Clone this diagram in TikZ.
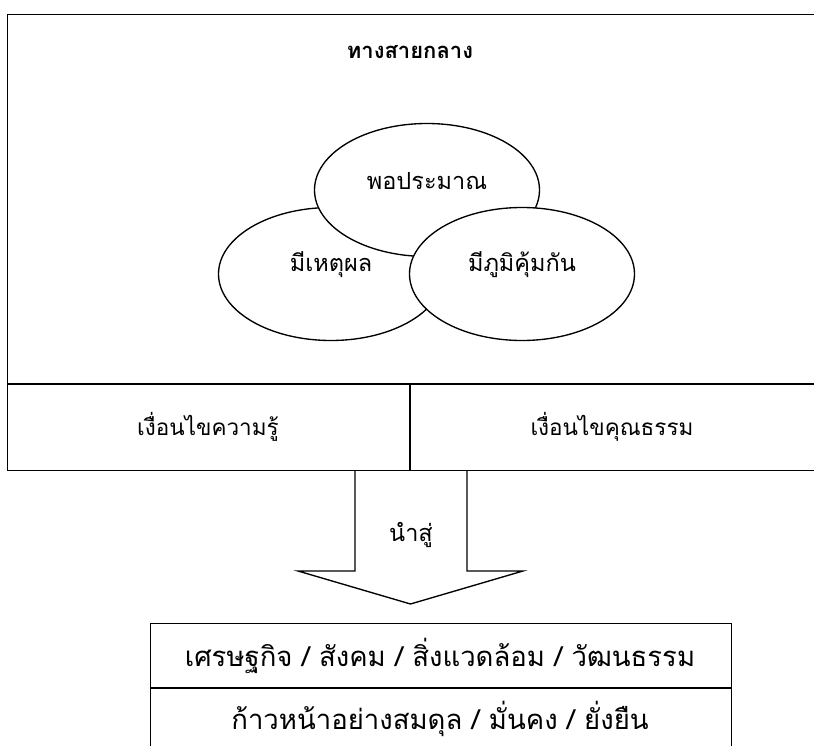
\documentclass[tikz,border=0pt]{standalone}
\usepackage{fontspec}
\setmainfont{Loma}[Script=Thai]
\usetikzlibrary{shapes.geometric}
\begin{document}
\begin{tikzpicture}[x=1pt,y=-1pt,line width=1.35pt,
  ell/.style={ellipse,draw,fill=white,minimum width=225pt,minimum height=133pt,inner sep=0pt},
  txt/.style={font=\fontsize{23.5}{28}\selectfont,inner sep=0pt},
  ctxt/.style={font=\fontsize{22.5}{27}\selectfont,inner sep=0pt},
  btxt/.style={font=\fontsize{27.5}{32}\selectfont,inner sep=0pt},
  ttl/.style={font=\bfseries\fontsize{22}{26}\selectfont,inner sep=0pt},
  cell/.style={draw,rectangle,inner sep=0pt}]
\useasboundingbox (0,0) rectangle (814,746);
\fill[white] (0,0) rectangle (814,746);
% outer frame
\node[cell,minimum width=813pt,minimum height=456pt,anchor=north west] (frame) at (7,14) {};
\coordinate (divL) at (7,384);
\coordinate (divR) at (822,384);
\draw (divL) -- (divR);
\coordinate (vtop) at (410,384);
\coordinate (vbot) at (410,470);
\draw (vtop) -- (vbot);
\node[ttl] (title) at (410,52) {ทางสายกลาง};
% ellipses
\node[ell] (L) at (331,274) {};
\node[ell] (T) at (427,190) {};
\node[ell] (R) at (522,274) {};
\node[txt] (tT) at ([yshift=9pt]T.center) {พอประมาณ};
\node[txt] (tL) at ([yshift=9pt]L.center) {มีเหตุผล};
\node[txt] (tR) at ([yshift=9pt]R.center) {มีภูมิคุ้มกัน};
% conditions
\node[ctxt] (k) at (208,427) {เงื่อนไขความรู้};
\node[ctxt] (m) at (612,427) {เงื่อนไขคุณธรรม};
% arrow
\coordinate (a1) at (355,470);
\coordinate (a2) at (355,571);
\coordinate (a3) at (298,571);
\coordinate (tip) at (410.5,604);
\coordinate (a5) at (523,571);
\coordinate (a6) at (467,571);
\coordinate (a7) at (467,470);
\draw[line join=miter] (a1) -- (a2) -- (a3) -- (tip) -- (a5) -- (a6) -- (a7);
\node[txt] (lead) at (411,535) {นำสู่};
% result box
\node[cell,minimum width=581pt,minimum height=140pt,anchor=north west] (res) at (150,623) {};
\coordinate (mL) at (150,688);
\coordinate (mR) at (731,688);
\draw (mL) -- (mR);
\node[btxt] (r1) at (440,656) {เศรษฐกิจ / สังคม / สิ่งแวดล้อม / วัฒนธรรม};
\node[btxt] (r2) at (440,719) {ก้าวหน้าอย่างสมดุล / มั่นคง / ยั่งยืน};
\end{tikzpicture}
\end{document}
